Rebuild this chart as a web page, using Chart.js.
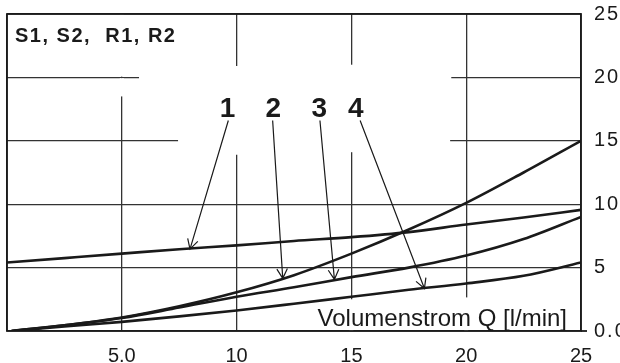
<!DOCTYPE html>
<html>
<head>
<meta charset="utf-8">
<script src="https://cdn.jsdelivr.net/npm/chart.js@4"></script>
<style>
  html, body { margin: 0; padding: 0; background: #fff; }
  #wrap { width: 620px; height: 363px; }
</style>
</head>
<body>
<div id="wrap"><canvas id="kennlinie" width="620" height="363"></canvas></div>
<script>
// Volumenstrom Q [l/min]
const qLine1  = [0, 2.5, 5, 7.5, 10, 12.5, 15, 17.5, 20, 22.5, 25];
const qCurves = [0.2, 2.5, 5, 7.5, 10, 12.5, 15, 17.5, 20, 22.5, 25];

// Kennlinien 1..4
const curve1 = [5.4, 5.75, 6.1, 6.45, 6.75, 7.1, 7.4, 7.8, 8.4, 8.95, 9.55];
const curve2 = [0, 0.45, 1.06, 1.95, 3.05, 4.4, 6.1, 8.0, 10.1, 12.5, 15.0];
const curve3 = [0, 0.45, 1.02, 1.85, 2.7, 3.45, 4.25, 5.0, 5.95, 7.25, 9.0];
const curve4 = [0, 0.35, 0.72, 1.15, 1.62, 2.15, 2.7, 3.25, 3.75, 4.35, 5.4];

const xTickLabels = ['', '5.0', '10', '15', '20', '25'];
const yTickLabels = ['0.0', '5', '10', '15', '20', '25'];

const titleText = 'S1, S2,  R1, R2';
const axisText = 'Volumenstrom Q [l/min]';

// Nummern und Pfeile (Zahl, Beschriftung x, Pfeilstart x, Pfeilspitze x/y)
const arrowLabels = ['1', '2', '3', '4'];
const arrowLabelX = [9.61, 11.6, 13.6, 15.19];
const arrowFromX  = [9.64, 11.57, 13.63, 15.38];
const arrowTipX   = [7.97, 12.01, 14.26, 18.18];
const arrowTipY   = [6.46, 4.15, 4.07, 3.35];

// Lücken im Raster (wo im Original Text steht)
const vGaps = [ [5, 20.06, 25], [5, 18.5, 19.94], [10, 13.9, 20.9], [15, 14.1, 21.0], [15, 0, 2.5], [20, 0, 2.65] ];
const hGaps = [ [20, 5.75, 19.35], [15, 7.45, 19.3] ];

const ink = '#1a1a1a';

function pts(xs, ys) {
    return xs.map((x, i) => ({ x: x, y: ys[i] }));
}

function lineSet(xs, ys) {
    return {
        data: pts(xs, ys),
        borderColor: ink,
        borderWidth: 2.6,
        pointRadius: 0,
        fill: false,
        tension: 0.4,
        cubicInterpolationMode: 'monotone'
    };
}

const decor = {
    id: 'decor',
    beforeDatasetsDraw(chart) {
        const ctx = chart.ctx;
        const xs = chart.scales.x, ys = chart.scales.y;
        ctx.save();
        ctx.fillStyle = '#fff';
        vGaps.forEach(g => {
            const px = xs.getPixelForValue(g[0]);
            const y1 = ys.getPixelForValue(g[2]), y2 = ys.getPixelForValue(g[1]);
            ctx.fillRect(px - 2, y1, 4, y2 - y1);
        });
        hGaps.forEach(g => {
            const py = ys.getPixelForValue(g[0]);
            const x1 = xs.getPixelForValue(g[1]), x2 = xs.getPixelForValue(g[2]);
            ctx.fillRect(x1, py - 2, x2 - x1, 4);
        });
        ctx.restore();
    },
    afterDatasetsDraw(chart) {
        const ctx = chart.ctx;
        const a = chart.chartArea;
        const xs = chart.scales.x, ys = chart.scales.y;
        ctx.save();
        // Rahmen
        ctx.strokeStyle = ink;
        ctx.lineWidth = 1.8;
        ctx.strokeRect(a.left, a.top, a.right - a.left, a.bottom - a.top);
        // kleiner Strich bei 0.0
        ctx.beginPath();
        ctx.moveTo(a.right, a.bottom);
        ctx.lineTo(a.right + 6, a.bottom);
        ctx.stroke();

        // Pfeile
        ctx.lineWidth = 1.2;
        for (let i = 0; i < arrowLabels.length; i++) {
            const sx = xs.getPixelForValue(arrowFromX[i]);
            const sy = ys.getPixelForValue(16.6);
            const tx = xs.getPixelForValue(arrowTipX[i]);
            const ty = ys.getPixelForValue(arrowTipY[i]);
            ctx.beginPath();
            ctx.moveTo(sx, sy);
            ctx.lineTo(tx, ty);
            const ang = Math.atan2(ty - sy, tx - sx);
            const len = 11, spread = 0.5;
            ctx.moveTo(tx - len * Math.cos(ang - spread), ty - len * Math.sin(ang - spread));
            ctx.lineTo(tx, ty);
            ctx.lineTo(tx - len * Math.cos(ang + spread), ty - len * Math.sin(ang + spread));
            ctx.stroke();
        }

        // Nummern
        ctx.fillStyle = ink;
        ctx.font = 'bold 28px "Liberation Sans", Arial, sans-serif';
        ctx.textAlign = 'center';
        ctx.textBaseline = 'alphabetic';
        for (let i = 0; i < arrowLabels.length; i++) {
            ctx.fillText(arrowLabels[i], xs.getPixelForValue(arrowLabelX[i]), ys.getPixelForValue(16.85));
        }

        // Titel
        ctx.textAlign = 'left';
        ctx.font = 'bold 20px "Liberation Sans", Arial, sans-serif';
        ctx.letterSpacing = '1.5px';
        ctx.fillText(titleText, a.left + 8, a.top + 28);

        // Achsentitel
        ctx.letterSpacing = '0px';
        ctx.textAlign = 'right';
        ctx.font = '24px "Liberation Sans", Arial, sans-serif';
        ctx.fillText(axisText, a.right - 14, a.bottom - 5);
        ctx.restore();

        // y-Beschriftung gesperrt (wird danach als eigene Ebene gezeichnet)
        ctx.letterSpacing = '2px';
    },
    afterDraw(chart) {
        chart.ctx.letterSpacing = '0px';
    }
};

const tickFont = { family: '"Liberation Sans Narrow", "Liberation Sans", sans-serif', size: 20 };

new Chart(document.getElementById('kennlinie'), {
    type: 'line',
    data: {
        datasets: [
            lineSet(qLine1, curve1),
            lineSet(qCurves, curve2),
            lineSet(qCurves, curve3),
            lineSet(qCurves, curve4)
        ]
    },
    options: {
        responsive: false,
        animation: false,
        events: [],
        layout: { padding: { left: 7, top: 14, right: 0, bottom: 0 } },
        plugins: {
            legend: { display: false },
            tooltip: { enabled: false },
            title: { display: false }
        },
        scales: {
            x: {
                type: 'linear',
                min: 0,
                max: 25,
                border: { display: false },
                grid: { color: '#333', lineWidth: 1.3, drawTicks: false },
                ticks: {
                    stepSize: 5,
                    color: ink,
                    font: tickFont,
                    padding: 13,
                    maxRotation: 0,
                    callback: (v) => xTickLabels[Math.round(v / 5)]
                },
                afterFit: (s) => { s.height = 32; s.paddingLeft = 0; s.paddingRight = 0; }
            },
            y: {
                type: 'linear',
                position: 'right',
                min: 0,
                max: 25,
                border: { display: false },
                grid: { color: '#333', lineWidth: 1.3, drawTicks: false },
                ticks: {
                    z: 1,
                    stepSize: 5,
                    color: ink,
                    font: tickFont,
                    padding: 13,
                    callback: (v) => yTickLabels[Math.round(v / 5)]
                },
                afterFit: (s) => { s.width = 39; s.paddingTop = 0; s.paddingBottom = 0; }
            }
        }
    },
    plugins: [decor]
});
</script>
</body>
</html>
